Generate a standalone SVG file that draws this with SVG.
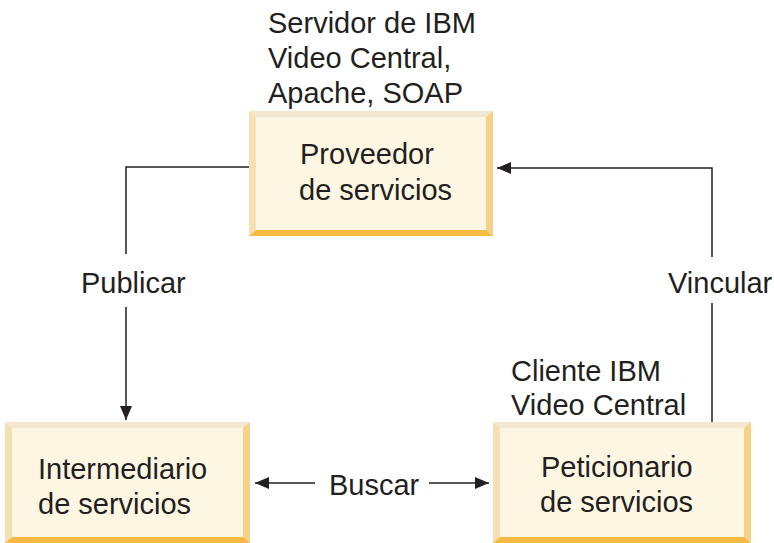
<svg xmlns="http://www.w3.org/2000/svg" width="774" height="543" viewBox="0 0 774 543">
<style>
text{font-family:"Liberation Sans",Arial,sans-serif;font-size:29px;fill:#231f20}
.fill{fill:#fdf6e3}
.bt{fill:#f3e7d2}
.bl{fill:#f6dfb2}
.br{fill:#f8d189}
.bb{fill:#f5b944}
.ln{fill:none;stroke:#231f20;stroke-width:1.5}
</style>
<defs>
<marker id="ah" markerUnits="userSpaceOnUse" markerWidth="14" markerHeight="12" viewBox="0 0 14 12" refX="14" refY="6" orient="auto">
<path d="M0,0 L14,6 L0,12 Z" fill="#231f20"/>
</marker>
</defs>
<g id="proveedor">
<rect class="fill" x="249" y="111" width="244" height="125"/>
<polygon class="bt" points="249,111 493,111 486,117 256,117"/>
<polygon class="bl" points="249,111 256,117 256,230 249,236"/>
<polygon class="br" points="493,111 493,236 486,230 486,117"/>
<polygon class="bb" points="249,236 256,230 486,230 493,236"/>
<text x="300" y="164">Proveedor</text>
<text x="299" y="200">de servicios</text>
</g>
<g id="intermediario">
<rect class="fill" x="5" y="422" width="245" height="121"/>
<polygon class="bt" points="5,422 250,422 243,428 12,428"/>
<polygon class="bl" points="5,422 12,428 12,537 5,543"/>
<polygon class="br" points="250,422 250,543 243,537 243,428"/>
<polygon class="bb" points="5,543 12,537 243,537 250,543"/>
<text x="38" y="479">Intermediario</text>
<text x="38" y="514">de servicios</text>
</g>
<g id="peticionario">
<rect class="fill" x="493" y="422" width="258" height="121"/>
<polygon class="bt" points="493,422 751,422 744,428 500,428"/>
<polygon class="bl" points="493,422 500,428 500,537 493,543"/>
<polygon class="br" points="751,422 751,543 744,537 744,428"/>
<polygon class="bb" points="493,543 500,537 744,537 751,543"/>
<text x="541" y="477">Peticionario</text>
<text x="540" y="512">de servicios</text>
</g>
<g id="servidor-label">
<text x="268" y="33">Servidor de IBM</text>
<text x="268" y="68">Video Central,</text>
<text x="268" y="103">Apache, SOAP</text>
</g>
<g id="cliente-label">
<text x="511" y="381">Cliente IBM</text>
<text x="511" y="415">Video Central</text>
</g>
<g id="connectors">
<path class="ln" d="M249,167 H126 V254"/>
<path class="ln" d="M126,307 V420" marker-end="url(#ah)"/>
<text x="81" y="293">Publicar</text>
<path class="ln" d="M712,422 V303"/>
<path class="ln" d="M712,257 V168 H497" marker-end="url(#ah)"/>
<text x="668" y="293">Vincular</text>
<path class="ln" d="M315,483 H255" marker-end="url(#ah)"/>
<path class="ln" d="M429,483 H489" marker-end="url(#ah)"/>
<text x="329" y="495">Buscar</text>
</g>
</svg>
